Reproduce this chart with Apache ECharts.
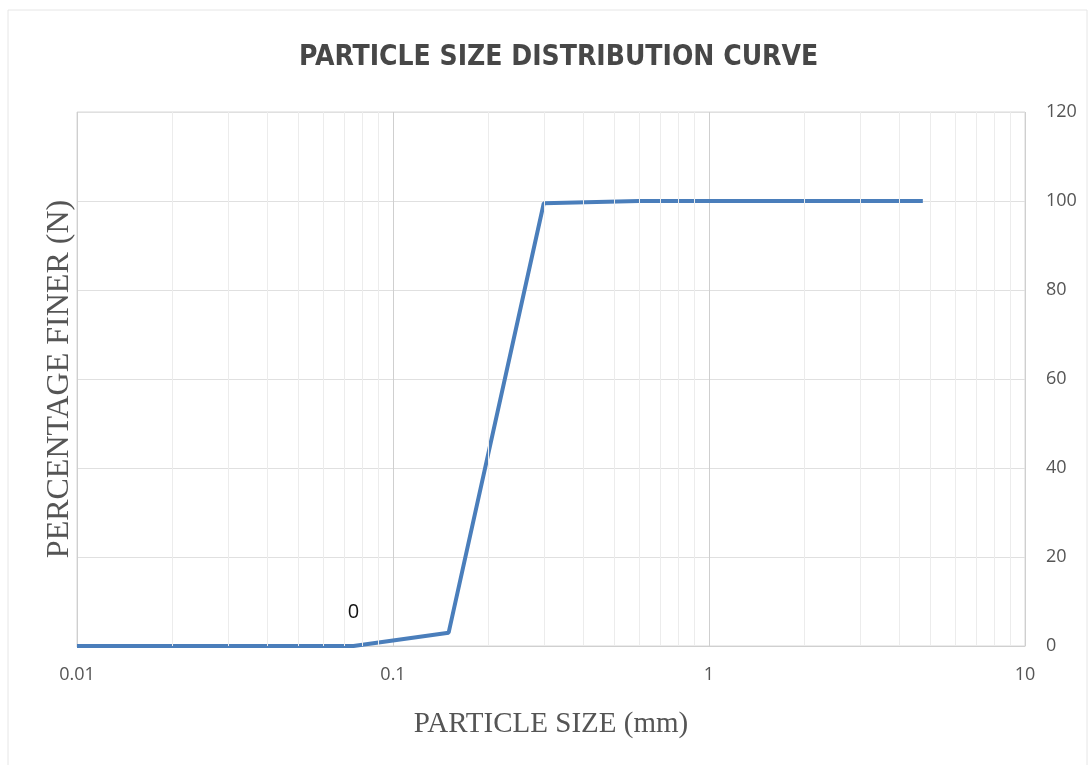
<!DOCTYPE html>
<html>
<head>
<meta charset="utf-8">
<script src="https://cdn.jsdelivr.net/npm/echarts@6/dist/echarts.min.js"></script>
<style>html,body{margin:0;padding:0;background:#fff}#c{width:1091px;height:765px}</style>
</head>
<body>
<div id="c"></div>
<script>
const particleSize = [0.01, 0.075, 0.15, 0.3, 0.6, 1.18, 2.36, 4.75];
const percentFiner = [0, 0, 3, 99.5, 100, 100, 100, 100];
const labelledIndex = 1;
const minorGrid = [0.02,0.03,0.04,0.05,0.06,0.07,0.08,0.09,0.2,0.3,0.4,0.5,0.6,0.7,0.8,0.9,2,3,4,5,6,7,8,9];

const chart = echarts.init(document.getElementById('c'));
const data = particleSize.map((x, i) => {
  const d = { value: [x, percentFiner[i]] };
  if (i === labelledIndex) {
    d.label = { show: true, position: 'top', distance: 24, offset: [0, 0], formatter: '0', color: '#111', fontSize: 20, fontFamily: 'Open Sans' };
  }
  return d;
});
chart.setOption({
  animation: false,
  title: {
    text: 'PARTICLE SIZE DISTRIBUTION CURVE',
    left: 294, top: 39,
    textStyle: { fontFamily: 'DejaVu Sans Condensed', fontWeight: 'bold', fontSize: 28, color: '#474747' }
  },
  graphic: [{
    type: 'rect', shape: { x: 8, y: 10, width: 1079, height: 770 },
    style: { fill: 'none', stroke: '#e6e6e6', lineWidth: 1 }, silent: true, z: -1
  }],
  grid: { left: 77, right: 66, top: 112, bottom: 119, show: true, borderColor: '#d9d9d9', borderWidth: 1 },
  xAxis: {
    type: 'log', logBase: 10, min: 0.01, max: 10,
    name: 'PARTICLE SIZE (mm)', nameLocation: 'middle', nameGap: 64,
    nameTextStyle: { fontFamily: 'Liberation Serif', fontSize: 29, color: '#555' },
    axisLine: { lineStyle: { color: '#d0d0d0' } },
    axisTick: { show: false },
    axisLabel: { color: '#555', fontSize: 18, fontFamily: 'Open Sans', margin: 20, formatter: v => String(v) },
    splitLine: { show: true, lineStyle: { color: '#cfcfcf', width: 1 } }
  },
  yAxis: {
    type: 'value', position: 'right', min: 0, max: 120, interval: 20,
    name: 'PERCENTAGE FINER (N)', nameLocation: 'middle', nameRotate: 90,
    nameGap: -(1091 - 77 - 66) - 33,
    nameTextStyle: { fontFamily: 'Liberation Serif', fontSize: 32, color: '#555' },
    axisLine: { show: false }, axisTick: { show: false },
    axisLabel: { color: '#555', fontSize: 18, fontFamily: 'Open Sans', margin: 21 },
    splitLine: { lineStyle: { color: '#e0e0e0' } }
  },
  series: [{
    type: 'line', data: data, symbol: 'circle', symbolSize: 0, showSymbol: true,
    lineStyle: { color: '#4a7ebb', width: 4 },
    itemStyle: { color: '#4a7ebb' },
    markLine: {
      silent: true, symbol: 'none', label: { show: false },
      lineStyle: { color: '#ececec', width: 1, type: 'solid' },
      data: minorGrid.map(v => ({ xAxis: v }))
    },
    z: 3
  }]
});
</script>
</body>
</html>
